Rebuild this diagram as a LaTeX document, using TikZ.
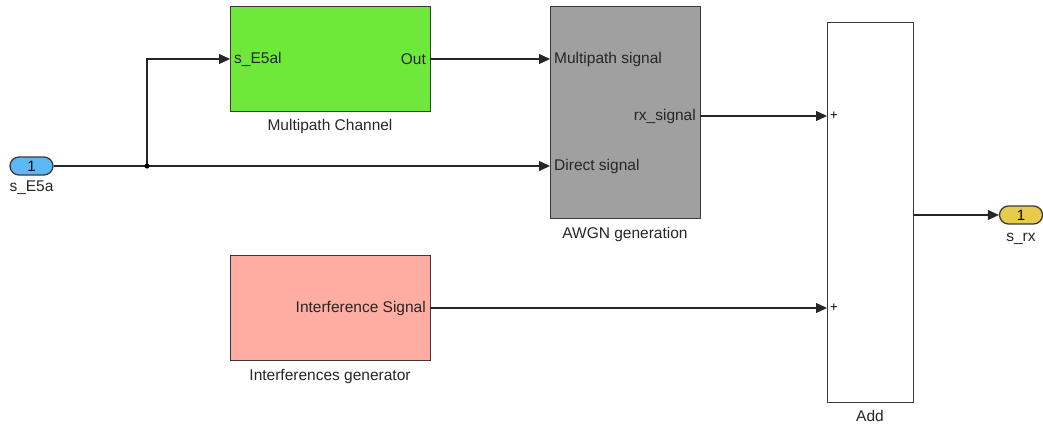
\documentclass[tikz,border=0pt]{standalone}
\usepackage{fontspec}
\setmainfont{Liberation Sans}
\usetikzlibrary{arrows.meta}
\definecolor{mpgreen}{HTML}{6EE83A}
\definecolor{awgngray}{HTML}{A0A0A0}
\definecolor{intpink}{HTML}{FFADA3}
\definecolor{inblue}{HTML}{5CB9F5}
\definecolor{outyellow}{HTML}{E9CB4B}
\definecolor{edge}{HTML}{3A3A3A}
\tikzset{
  blk/.style={draw=edge, line width=1.4pt, anchor=north west, inner sep=0pt},
  pill/.style={draw=edge, line width=1.3pt, rounded corners=9pt, minimum width=43pt,
    minimum height=18pt, inner sep=0pt, font=\fontsize{15}{17}\selectfont},
  lbl/.style={font=\fontsize{15.5}{18}\selectfont, inner sep=2pt, text=black!85},
  port/.style={lbl, inner sep=4pt},
  sig/.style={draw=black!85, line width=1.1pt},
  sigarr/.style={sig, -{Triangle[length=11pt,width=10pt]}},
  plus/.style={font=\fontsize{13}{15}\selectfont, anchor=west, inner sep=3pt},
}
\begin{document}
\begin{tikzpicture}[x=1pt,y=-1pt]
\useasboundingbox (0,0) rectangle (1043,425);

% source and sink ports
\node[pill, fill=inblue] (src) at (31.5,166) {1};
\node[lbl, anchor=north] (srclbl) at (31.5,179) {s\_E5a};
\node[pill, fill=outyellow] (dst) at (1021,215) {1};
\node[lbl, anchor=north] (dstlbl) at (1021,231) {s\_rx};

% multipath channel
\node[blk, fill=mpgreen, minimum width=200pt, minimum height=105pt] (mp) at (230,6) {};
\node[lbl, anchor=north] (mpname) at (330,117) {Multipath Channel};
\coordinate (mpin) at (230,59);
\coordinate (mpout) at (430,59);
\node[port, anchor=west] (mpinl) at (mpin) {s\_E5al};
\node[port, anchor=east] (mpoutl) at (mpout) {Out};

% AWGN block
\node[blk, fill=awgngray, minimum width=150pt, minimum height=212pt] (awgn) at (550,6) {};
\node[lbl, anchor=north] (awgnname) at (625,225) {AWGN generation};
\coordinate (awin1) at (550,59);
\coordinate (awin2) at (550,166);
\coordinate (awout) at (700,116);
\node[port, anchor=west] (awin1l) at (awin1) {Multipath signal};
\node[port, anchor=west] (awin2l) at (awin2) {Direct signal};
\node[port, anchor=east] (awoutl) at (awout) {rx\_signal};

% interference generator
\node[blk, fill=intpink, minimum width=200pt, minimum height=105pt] (intf) at (230,255) {};
\node[lbl, anchor=north] (intfname) at (330,367) {Interferences generator};
\coordinate (intfout) at (430,308);
\node[port, anchor=east] (intfoutl) at (intfout) {Interference Signal};

% adder
\node[blk, fill=white, minimum width=86pt, minimum height=380pt] (add) at (827,22) {};
\node[lbl, anchor=north] (addname) at (870,408) {Add};
\coordinate (addin1) at (827,116);
\coordinate (addin2) at (827,308);
\coordinate (addout) at (913,215);
\node[plus] (p1) at (addin1) {+};
\node[plus] (p2) at (addin2) {+};

% signal lines
\coordinate (split) at (147,166);
\draw[sig] (src.east) -- (split);
\draw[sigarr] (split) -- (awin2);
\draw[sigarr] (split) |- (mpin);
\fill[black] (split) circle (2.6pt);
\draw[sigarr] (mpout) -- (awin1);
\draw[sigarr] (awout) -- (addin1);
\draw[sigarr] (intfout) -- (addin2);
\draw[sigarr] (addout) -- (dst.west);
\end{tikzpicture}
\end{document}
